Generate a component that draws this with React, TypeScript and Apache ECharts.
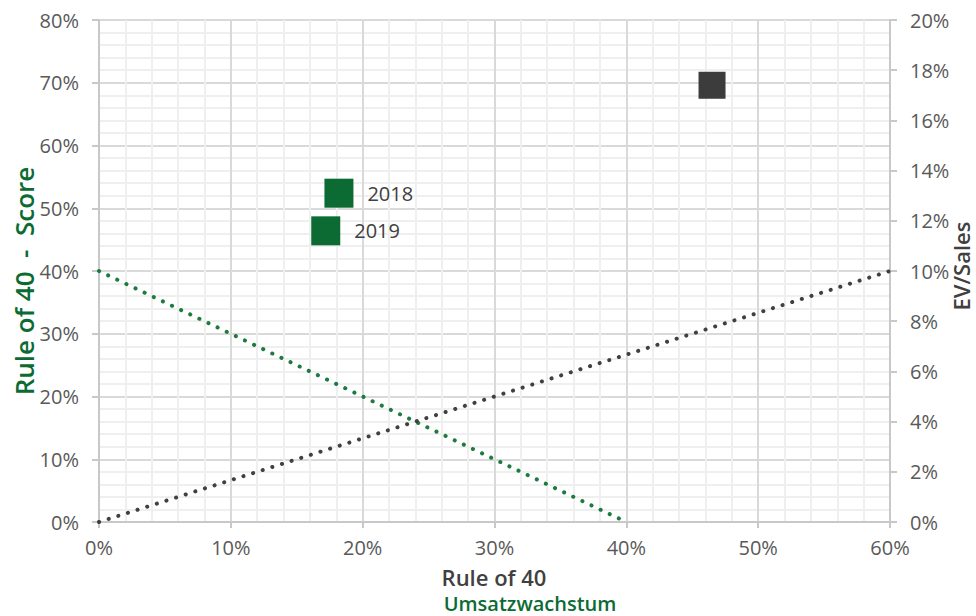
import React, { useEffect, useRef } from "react";
import * as echarts from "echarts";

// Scatter points: [Umsatzwachstum %, Rule of 40 score %]
const yearLabels = ["2018", "2019"];
const yearPoints: [number, number][] = [
  [18.2, 52.4],
  [17.2, 46.4],
];
const peerPoint: [number, number][] = [[46.5, 69.6]];

// Reference lines
const rule40Line: [number, number][] = [
  [0, 40],
  [40, 0],
];
const evSalesLine: [number, number][] = [
  [0, 0],
  [60, 10],
];

const xTicks = { min: 0, max: 60, interval: 10 };
const yLeftTicks = { min: 0, max: 80, interval: 10 };
const yRightTicks = { min: 0, max: 20, interval: 2 };

const GREEN = "#0b6b33";
const DARK = "#404040";
const LABEL = "#595959";
const FONT = "'Open Sans', 'Noto Sans', sans-serif";

export default function App() {
  const ref = useRef<HTMLDivElement>(null);

  useEffect(() => {
    document.body.style.margin = "0";
    const chart = echarts.init(ref.current!, null, { renderer: "svg" });
    const axisLabel = { color: LABEL, fontSize: 20, fontFamily: FONT };
    chart.setOption({
      animation: false,
      backgroundColor: "#ffffff",
      grid: { left: 99, right: 86, top: 20, bottom: 94 },
      xAxis: {
        type: "value",
        ...xTicks,
        axisLine: { show: true, lineStyle: { color: "#c8c8c8", width: 2 } },
        axisTick: { show: true, length: 6, lineStyle: { color: "#c8c8c8", width: 2 } },
        axisLabel: { ...axisLabel, margin: 15, formatter: (v: number) => v + "%" },
        splitLine: { show: true, lineStyle: { color: "#d9d9d9", width: 2 } },
        minorTick: { show: false, splitNumber: 5 },
        minorSplitLine: { show: true, lineStyle: { color: "#efefef", width: 2 } },
      },
      yAxis: [
        {
          type: "value",
          ...yLeftTicks,
          axisLine: { show: true, lineStyle: { color: "#c8c8c8", width: 2 } },
          axisTick: { show: true, length: 7, lineStyle: { color: "#c8c8c8", width: 2 } },
          axisLabel: { ...axisLabel, margin: 20, formatter: (v: number) => v + "%" },
          splitLine: { show: true, lineStyle: { color: "#d9d9d9", width: 2 } },
          minorTick: { show: false, splitNumber: 5 },
          minorSplitLine: { show: true, lineStyle: { color: "#efefef", width: 2 } },
        },
        {
          type: "value",
          position: "right",
          ...yRightTicks,
          axisLine: { show: true, lineStyle: { color: "#c8c8c8", width: 2 } },
          axisTick: { show: true, length: 7, lineStyle: { color: "#c8c8c8", width: 2 } },
          axisLabel: { ...axisLabel, margin: 20, formatter: (v: number) => v + "%" },
          splitLine: { show: false },
        },
      ],
      series: [
        {
          type: "line",
          yAxisIndex: 0,
          data: rule40Line,
          symbol: "none",
          lineStyle: { color: "#1e7a3e", width: 4, type: [0.1, 10], cap: "round" },
          z: 3,
        },
        {
          type: "line",
          yAxisIndex: 1,
          data: evSalesLine,
          symbol: "none",
          lineStyle: { color: DARK, width: 4, type: [0.1, 10], cap: "round" },
          z: 3,
        },
        {
          type: "scatter",
          yAxisIndex: 0,
          data: yearPoints.map((p, i) => ({ value: p, name: yearLabels[i] })),
          symbol: "rect",
          symbolSize: 29,
          itemStyle: { color: GREEN, opacity: 1 },
          label: {
            show: true,
            position: "right",
            distance: 14,
            formatter: (p: any) => p.name,
            color: DARK,
            fontSize: 20,
            fontFamily: FONT,
          },
          z: 5,
        },
        {
          type: "scatter",
          yAxisIndex: 0,
          data: peerPoint,
          symbol: "rect",
          symbolSize: 27,
          itemStyle: { color: "#3c3c3c", opacity: 1 },
          z: 5,
        },
      ],
      graphic: [
        {
          type: "text",
          x: 24,
          y: 281,
          rotation: Math.PI / 2,
          style: {
            text: "Rule of 40  -  Score",
            fill: GREEN,
            font: `600 26px ${FONT}`,
            align: "center",
            verticalAlign: "middle",
          },
        },
        {
          type: "text",
          x: 961,
          y: 266,
          rotation: Math.PI / 2,
          style: {
            text: "EV/Sales",
            fill: DARK,
            font: `600 22px ${FONT}`,
            align: "center",
            verticalAlign: "middle",
          },
        },
        {
          type: "text",
          x: 494,
          y: 577,
          style: {
            text: "Rule of 40",
            fill: DARK,
            font: `600 22px ${FONT}`,
            align: "center",
            verticalAlign: "middle",
          },
        },
        {
          type: "text",
          x: 530,
          y: 603,
          style: {
            text: "Umsatzwachstum",
            fill: GREEN,
            font: `600 20px ${FONT}`,
            align: "center",
            verticalAlign: "middle",
          },
        },
      ],
    });
    return () => chart.dispose();
  }, []);

  return (
    <div
      ref={ref}
      style={{ position: "absolute", left: 0, top: 0, width: 976, height: 616 }}
    />
  );
}
